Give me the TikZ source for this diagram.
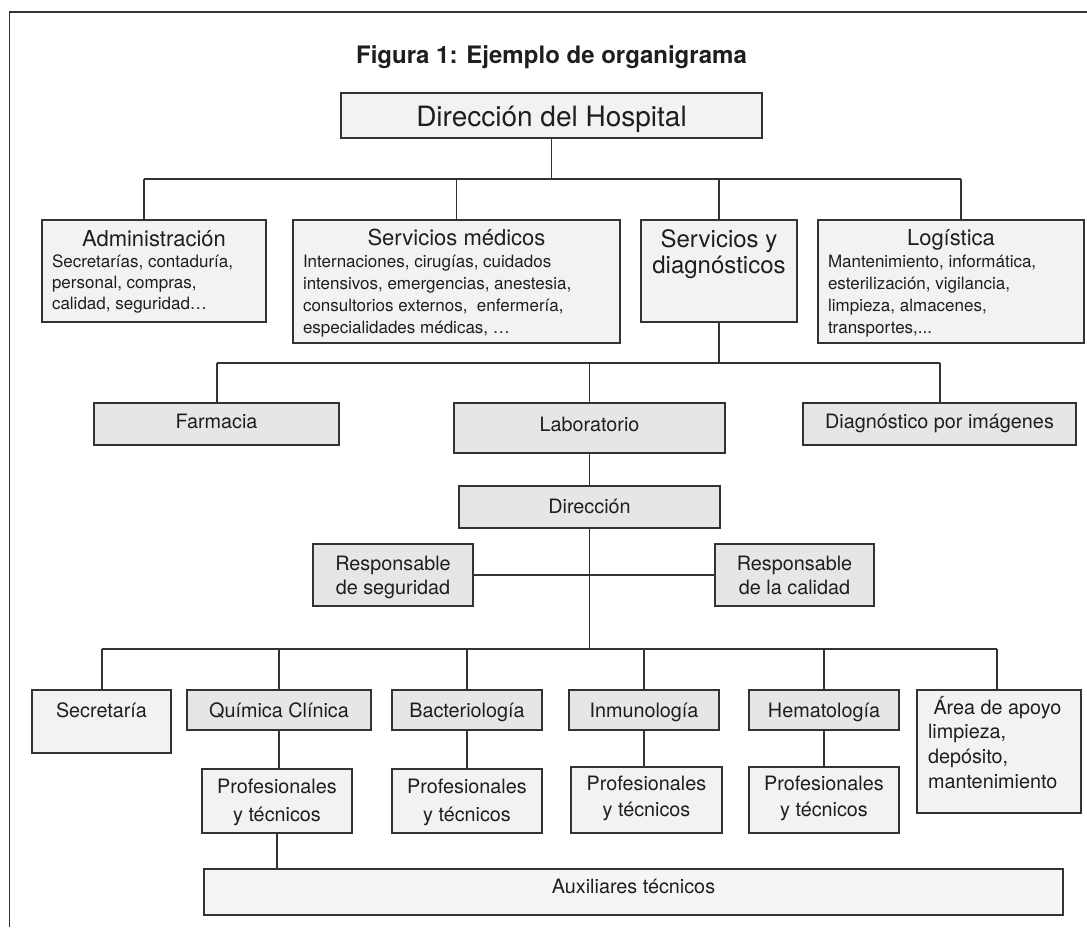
\documentclass[tikz,border=0pt]{standalone}
\usepackage{fontspec}
\setmainfont{TeX Gyre Heros}
\definecolor{ink}{HTML}{1E1E1E}
\definecolor{edge}{HTML}{333333}
\definecolor{paleA}{HTML}{F2F2F2}
\definecolor{paleB}{HTML}{E6E6E6}
\definecolor{paleC}{HTML}{F5F5F5}
\tikzset{
  orgbox/.style={draw=edge, line width=1.3pt, inner sep=0pt, outer sep=0pt,
    anchor=north west, text=ink, font=\fontsize{19.8}{24}\selectfont},
  light/.style={orgbox, fill=paleA},
  shaded/.style={orgbox, fill=paleB},
  link/.style={draw=edge, line width=1.1pt},
  frameline/.style={draw=edge, line width=1.5pt},
}
\begin{document}
\begin{tikzpicture}[x=1pt, y=-1pt]
\useasboundingbox (0,0) rectangle (1087,927);
\draw[frameline] (9.5,927) -- (9.5,12) -- (1087,12);

% title
\node[font=\bfseries\fontsize{24}{28}\selectfont, text=ink, anchor=base] (title) at (551.5,63)
  {Figura 1: Ejemplo de organigrama};

% top level
\node[light, minimum width=421pt, minimum height=45pt, text height=33pt, text depth=12pt,
  font=\fontsize{28}{30}\selectfont] (top) at (341,93) {Dirección del Hospital};

% second level
\node[light, minimum width=224pt, minimum height=102pt, text height=26pt, text depth=76pt] (adm) at (42,220)
  {\parbox[t]{204pt}{\centering\fontsize{22}{22}\selectfont Administración\par
   \raggedright\fontsize{17}{21}\selectfont Secretarías, contaduría,\\ personal, compras,\\ calidad, seguridad…}};
\node[light, minimum width=327pt, minimum height=123pt, text height=25pt, text depth=98pt] (med) at (293,220)
  {\parbox[t]{307pt}{\centering\fontsize{22}{22}\selectfont Servicios médicos\par
   \raggedright\fontsize{17}{22}\selectfont Internaciones, cirugías, cuidados\\ intensivos, emergencias, anestesia,\\ consultorios externos, \ enfermería,\\ especialidades médicas, …}};
\node[light, minimum width=156pt, minimum height=102pt, text height=27pt, text depth=75pt] (sdx) at (641,220)
  {\parbox[t]{156pt}{\centering\fontsize{24}{26}\selectfont Servicios y\\ diagnósticos}};
\node[light, minimum width=266pt, minimum height=123pt, text height=25pt, text depth=98pt] (log) at (818,220)
  {\parbox[t]{246pt}{\centering\fontsize{22}{22}\selectfont Logística\par
   \raggedright\fontsize{17}{22}\selectfont Mantenimiento, informática,\\ esterilización, vigilancia,\\ limpieza, almacenes,\\ transportes,...}};

% services and diagnostics
\node[shaded, minimum width=245pt, minimum height=42pt, text height=25pt, text depth=17pt] (farm) at (94,403) {Farmacia};
\node[shaded, minimum width=271pt, minimum height=50pt, text height=28pt, text depth=22pt] (lab) at (454,403) {Laboratorio};
\node[shaded, minimum width=273pt, minimum height=42pt, text height=25pt, text depth=17pt] (diag) at (803,403) {Diagnóstico por imágenes};

% laboratory
\node[shaded, minimum width=261pt, minimum height=42pt, text height=27pt, text depth=15pt] (dir) at (459,486) {Dirección};
\node[shaded, minimum width=160pt, minimum height=62pt, text height=26pt, text depth=36pt] (rs) at (313,544)
  {\parbox[t]{160pt}{\centering Responsable\\ de seguridad}};
\node[shaded, minimum width=159pt, minimum height=62pt, text height=26pt, text depth=36pt] (rc) at (715,544)
  {\parbox[t]{159pt}{\centering Responsable\\ de la calidad}};

\node[light, minimum width=139pt, minimum height=63pt, text height=27pt, text depth=36pt] (sec) at (32,690) {Secretaría};
\node[shaded, minimum width=184pt, minimum height=40pt, text height=27pt, text depth=13pt] (qui) at (187,690) {Química Clínica};
\node[shaded, minimum width=150pt, minimum height=40pt, text height=27pt, text depth=13pt] (bac) at (392,690) {Bacteriología};
\node[shaded, minimum width=150pt, minimum height=40pt, text height=27pt, text depth=13pt] (inm) at (569,690) {Inmunología};
\node[shaded, minimum width=150pt, minimum height=40pt, text height=27pt, text depth=13pt] (hem) at (749,690) {Hematología};
\node[light, minimum width=164pt, minimum height=123pt, text height=24pt, text depth=99pt] (are) at (917,690)
  {\parbox[t]{142pt}{\raggedright\fontsize{19.8}{24.7}\selectfont\ Área de apoyo\\ limpieza,\\ depósito,\\ mantenimiento}};

\node[light, minimum width=150pt, minimum height=64pt, text height=24pt, text depth=40pt] (p1) at (202,769)
  {\parbox[t]{150pt}{\centering\fontsize{19.8}{28.5}\selectfont Profesionales\\ y técnicos}};
\node[light, minimum width=150pt, minimum height=64pt, text height=24pt, text depth=40pt] (p2) at (392,769)
  {\parbox[t]{150pt}{\centering\fontsize{19.8}{28.5}\selectfont Profesionales\\ y técnicos}};
\node[light, minimum width=151pt, minimum height=66pt, text height=23pt, text depth=43pt] (p3) at (571,767)
  {\parbox[t]{151pt}{\centering\fontsize{19.8}{26}\selectfont Profesionales\\ y técnicos}};
\node[light, minimum width=150pt, minimum height=66pt, text height=23pt, text depth=43pt] (p4) at (749,767)
  {\parbox[t]{150pt}{\centering\fontsize{19.8}{26}\selectfont Profesionales\\ y técnicos}};
\node[orgbox, fill=paleC, minimum width=859pt, minimum height=46pt, text height=24pt, text depth=22pt] (aux) at (204,869)
  {Auxiliares técnicos};

% bus coordinates
\coordinate (a1) at (144,179);
\coordinate (a4) at (961,179);
\coordinate (c1) at (217,363);
\coordinate (c3) at (940,363);
\coordinate (e1) at (102,649);
\coordinate (e6) at (997,649);

% connectors, first level
\draw[link] (top.south) -- (top.south |- a1);
\draw[link] (a1) -- (a4);
\draw[link] (a1) -- (a1 |- adm.north);
\draw[link] (med.north) -- (med.north |- a1);
\draw[link] (sdx.north) -- (sdx.north |- a1);
\draw[link] (a4) -- (a4 |- log.north);

% connectors, services and diagnostics
\draw[link] (sdx.south) -- (sdx.south |- c1);
\draw[link] (c1) -- (c3);
\draw[link] (c1) -- (c1 |- farm.north);
\draw[link] (lab.north) -- (lab.north |- c1);
\draw[link] (c3) -- (c3 |- diag.north);

% connectors, laboratory
\draw[link] (lab.south) -- (dir.north);
\draw[link] (dir.south) -- (dir.south |- e1);
\draw[link] (rs.east) -- (rc.west);
\draw[link] (e1) -- (e6);
\draw[link] (e1) -- (e1 |- sec.north);
\draw[link] (qui.north) -- (qui.north |- e1);
\draw[link] (bac.north) -- (bac.north |- e1);
\draw[link] (inm.north) -- (inm.north |- e1);
\draw[link] (hem.north) -- (hem.north |- e1);
\draw[link] (e6) -- (e6 |- are.north);

\draw[link] (qui.south) -- (qui.south |- p1.north);
\draw[link] (bac.south) -- (bac.south |- p2.north);
\draw[link] (inm.south) -- (inm.south |- p3.north);
\draw[link] (hem.south) -- (hem.south |- p4.north);
\draw[link] (p1.south) -- (p1.south |- aux.north);
\end{tikzpicture}
\end{document}
